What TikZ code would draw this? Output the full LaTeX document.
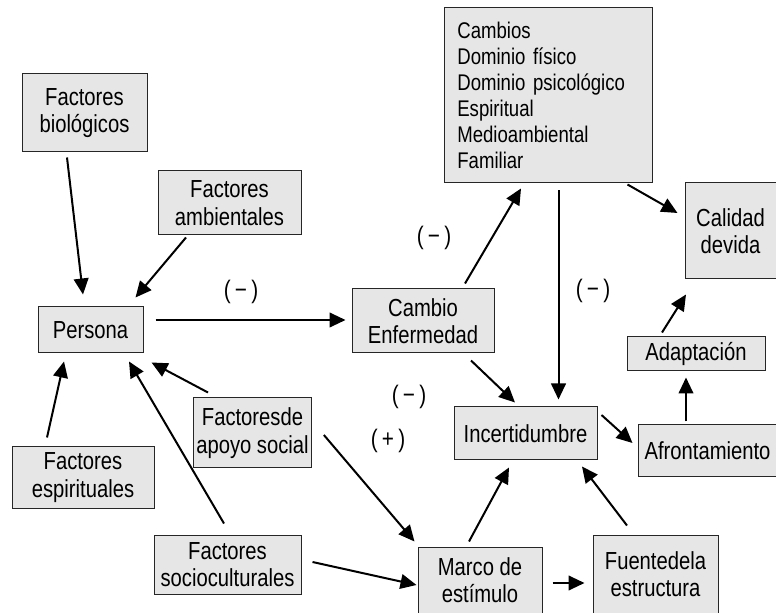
\documentclass[tikz,border=0pt]{standalone}
\usepackage{fontspec}
\setmainfont{Liberation Sans}[FakeStretch=0.82]
\usepackage{tikz}
\usetikzlibrary{calc, arrows.meta}
\definecolor{boxgray}{RGB}{230,230,230}

\begin{document}
\begin{tikzpicture}[x=0.75pt, y=-0.75pt,
    box/.style={draw=black!85, fill=boxgray, line width=0.75pt, align=center,
      inner sep=2pt, font=\fontsize{18.5}{20.5}\selectfont},
    arr/.style={-{Triangle[length=12pt,width=11pt]}, line width=1.5pt},
    sign/.style={font=\fontsize{19}{20}\selectfont}]
  \useasboundingbox (0,0) rectangle (776,613);
  % boxes
  \node[box, minimum width=93.75pt, minimum height=58.5pt] (bio) at (84.5,113) {Factores\\biológicos};
  \node[box, minimum width=107.25pt, minimum height=48pt] (amb) at (229.5,203) {Factores\\ambientales};
  \node[box, minimum width=78.75pt, minimum height=34.5pt] (persona) at (90.5,330) {Persona};
  \node[box, minimum width=106.5pt, minimum height=48pt] (cambio) at (423,321) {Cambio\\Enfermedad};
  \node[box, align=left, text width=136pt, inner xsep=10pt, minimum height=131.25pt,
    font=\fontsize{17}{19.5}\selectfont] (cambios) at (548,95.5)
    {Cambios\\Dominio físico\\Dominio psicológico\\Espiritual\\Medioambiental\\Familiar};
  \node[box, minimum width=68.25pt, minimum height=72pt] (calidad) at (730.5,231) {Calidad\\devida};
  \node[box, minimum width=103.5pt, minimum height=25.5pt] (adapt) at (696,354) {Adaptación};
  \node[box, minimum width=107.25pt, minimum height=39.75pt] (incert) at (525.5,433.5) {Incertidumbre};
  \node[box, minimum width=104.25pt, minimum height=39pt] (afront) at (707.5,451) {Afrontamiento};
  \node[box, minimum width=87.75pt, minimum height=52.5pt] (apoyo) at (252.5,433) {Factoresde\\apoyo social};
  \node[box, minimum width=106.5pt, minimum height=45.75pt] (espir) at (83,477.5) {Factores\\espirituales};
  \node[box, minimum width=110.25pt, minimum height=44.25pt] (socio) at (227.5,564.5) {Factores\\socioculturales};
  \node[box, minimum width=93pt, minimum height=49.5pt] (marco) at (480,580) {Marco de\\estímulo};
  \node[box, minimum width=93.75pt, minimum height=58.5pt] (fuente) at (655.5,574) {Fuentedela\\estructura};
  % signs
  \node[sign] (s1) at (241,292) {(\,−\,)};
  \node[sign] (s2) at (434,238) {(\,−\,)};
  \node[sign] (s3) at (593,291) {(\,−\,)};
  \node[sign] (s4) at (409,397) {(\,−\,)};
  \node[sign] (s5) at (388,441) {(\,+\,)};
  % arrows into Persona
  \draw[arr] ($(bio.south)+(-17.5,5)$) -- ($(persona.north)+(-7.5,-12)$);
  \draw[arr] ($(amb.south)+(-43.5,2)$) -- ($(persona.north east)+(-8,-9)$);
  \draw[arr] ($(apoyo.north)+(-44.5,-5)$) -- ($(persona.south east)+(8,9)$);
  \draw[arr] ($(espir.north)+(-36,-9)$) -- ($(persona.south)+(-26.5,8)$);
  \draw[arr] ($(socio.north)+(-3.5,-11)$) -- ($(persona.south)+(38.5,8)$);
  % main chain
  \draw[arr] ($(persona.east)+(12,-10)$) -- ($(cambio.west)+(-6,-1)$);
  \draw[arr] ($(cambio.north)+(42,-5)$) -- ($(cambios.south)+(-27,5)$);
  \draw[arr] ($(cambios.south east)+(-25,1)$) -- ($(calidad.west)+(-7,-18)$);
  \draw[arr] ($(cambios.south)+(10.5,7)$) -- ($(incert.north)+(33,-7)$);
  \draw[arr] ($(cambio.south)+(48,7)$) -- ($(incert.north)+(-10.5,-4)$);
  \draw[arr] ($(incert.east)+(4,-18.5)$) -- ($(afront.west)+(-5,-8)$);
  \draw[arr] ($(afront.north)+(-21.5,-3)$) -- ($(adapt.south)+(-10,6)$);
  \draw[arr] ($(adapt.north)+(-34,-4)$) -- ($(calidad.south)+(-44.5,15)$);
  % stimulus frame
  \draw[arr] ($(apoyo.east)+(12,2)$) -- ($(marco.north west)+(-3,-5)$);
  \draw[arr] ($(socio.east)+(11,-2.5)$) -- ($(marco.west)+(-1,5)$);
  \draw[arr] ($(marco.north)+(-11,-5)$) -- ($(incert.south)+(-16.5,7)$);
  \draw[arr] ($(fuente.north)+(-28.5,-9)$) -- ($(incert.south)+(56.5,6)$);
  \draw[arr] ($(marco.east)+(10,3)$) -- ($(fuente.west)+(-8,9)$);
\end{tikzpicture}
\end{document}
